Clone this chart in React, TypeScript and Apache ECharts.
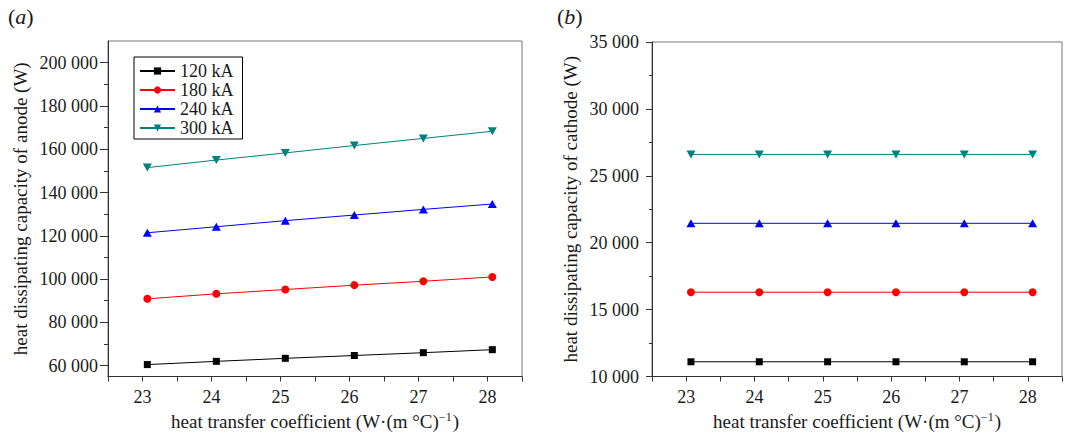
import React, { useEffect, useRef } from 'react';
import * as echarts from 'echarts';

const seriesNames = ['120 kA', '180 kA', '240 kA', '300 kA'];
const seriesColors = ['#000000', '#ff0000', '#0000ff', '#008080'];
const xValues = [23.07, 24.07, 25.07, 26.07, 27.07, 28.07];
const anode120 = [60500, 62000, 63400, 64700, 66000, 67400];
const anode180 = [90900, 93200, 95200, 97200, 99000, 101000];
const anode240 = [121400, 124200, 127000, 129600, 132200, 134700];
const anode300 = [151500, 155000, 158300, 161700, 165000, 168300];
const cathode120 = [11100, 11100, 11100, 11100, 11100, 11100];
const cathode180 = [16300, 16300, 16300, 16300, 16300, 16300];
const cathode240 = [21450, 21450, 21450, 21450, 21450, 21450];
const cathode300 = [26600, 26600, 26600, 26600, 26600, 26600];
const anodeMajorTicks = [60000, 80000, 100000, 120000, 140000, 160000, 180000, 200000];
const anodeMinorTicks = [70000, 90000, 110000, 130000, 150000, 170000, 190000];
const anodeTitle = 'heat dissipating capacity of anode (W)';
const cathodeTitle = 'heat dissipating capacity of cathode (W)';
const xTitle = 'heat transfer coefficient (W·(m °C)';

const FONT = "'Liberation Serif', 'Times New Roman', serif";
const TXT = '#1a1a1a';
const TICK_FS = 18;
const TITLE_FS = 19;

const symbols = ['rect', 'circle', 'triangle', 'triangle'];
const symbolRotates = [0, 0, 0, 180];
const symbolSizes: any[] = [7, 8, [9, 8], [9, 8]];

const fmtThousands = (v: number) => {
  const s = String(Math.round(v));
  return s.length > 3 ? s.slice(0, s.length - 3) + ' ' + s.slice(-3) : s;
};

export default function App() {
  const ref = useRef<HTMLDivElement>(null);
  useEffect(() => {
    if (!ref.current) return;
    const chart = echarts.init(ref.current, null, { renderer: 'svg' });
    const anodeData = [anode120, anode180, anode240, anode300];
    const cathodeData = [cathode120, cathode180, cathode240, cathode300];

    const mkSeries = (data: number[][], xi: number, yi: number) =>
      data.map((vals, i) => ({
        name: seriesNames[i],
        type: 'line',
        xAxisIndex: xi,
        yAxisIndex: yi,
        data: vals.map((v, j) => [xValues[j], v]),
        symbol: symbols[i],
        symbolRotate: symbolRotates[i],
        symbolSize: symbolSizes[i],
        showAllSymbol: true,
        lineStyle: { color: seriesColors[i], width: 1 },
        itemStyle: { color: seriesColors[i] },
        emphasis: { disabled: true },
      }));

    const xAxisBase = (gi: number) => ({
      type: 'value',
      gridIndex: gi,
      min: 22.5,
      max: 28.5,
      interval: 0.5,
      name: '{a|' + xTitle + '}{s|−1}{a|)}',
      nameLocation: 'middle',
      nameGap: 34,
      nameTextStyle: {
        rich: {
          a: { fontFamily: FONT, fontSize: TITLE_FS, color: TXT, lineHeight: 22, verticalAlign: 'middle' },
          s: { fontFamily: FONT, fontSize: 12, color: TXT, lineHeight: 22, verticalAlign: 'top', padding: [0, 1, 0, 0] },
        },
      },
      axisLine: { show: true, lineStyle: { color: '#333', width: 1 } },
      axisTick: { show: true, length: 5, lineStyle: { color: '#333' } },
      axisLabel: {
        margin: 11,
        fontFamily: FONT,
        fontSize: TICK_FS,
        color: TXT,
        formatter: (v: number) => (Math.abs(v - Math.round(v)) < 1e-6 ? String(Math.round(v)) : ''),
      },
      splitLine: { show: false },
    });

    const option: any = {
      animation: false,
      backgroundColor: '#ffffff',
      textStyle: { fontFamily: FONT },
      graphic: [
        {
          type: 'text', left: 8, top: 5,
          style: {
            text: '{n|(}{i|a}{n|)}',
            rich: {
              n: { fontFamily: FONT, fontSize: 22, fill: TXT },
              i: { fontFamily: FONT, fontSize: 22, fontStyle: 'italic', fill: TXT },
            },
          },
        },
        {
          type: 'text', left: 557, top: 5,
          style: {
            text: '{n|(}{i|b}{n|)}',
            rich: {
              n: { fontFamily: FONT, fontSize: 22, fill: TXT },
              i: { fontFamily: FONT, fontSize: 22, fontStyle: 'italic', fill: TXT },
            },
          },
        },
      ],
      legend: {
        data: seriesNames,
        orient: 'vertical',
        left: 134,
        top: 57,
        padding: [5, 9, 2, 5],
        itemGap: 1,
        itemWidth: 35,
        itemHeight: 9,
        borderColor: '#000',
        borderWidth: 1,
        backgroundColor: '#fff',
        textStyle: { fontFamily: FONT, fontSize: TICK_FS, color: TXT, lineHeight: 17 },
        selectedMode: false,
      },
      grid: [
        { left: 108, right: 543, top: 41, bottom: 59, show: true, borderColor: '#777', borderWidth: 1, backgroundColor: 'transparent' },
        { left: 652, right: 2, top: 42, bottom: 59, show: true, borderColor: '#777', borderWidth: 1, backgroundColor: 'transparent' },
      ],
      xAxis: [xAxisBase(0), xAxisBase(1)],
      yAxis: [
        {
          type: 'value',
          gridIndex: 0,
          min: 55000,
          max: 210000,
          name: anodeTitle,
          nameLocation: 'middle',
          nameGap: 78,
          nameTextStyle: { fontFamily: FONT, fontSize: TITLE_FS, color: TXT },
          axisLine: { show: true, lineStyle: { color: '#333', width: 1 } },
          axisTick: { show: true, length: 8, customValues: anodeMajorTicks, lineStyle: { color: '#333' } },
          axisLabel: {
            customValues: anodeMajorTicks,
            margin: 10,
            fontFamily: FONT,
            fontSize: TICK_FS,
            color: TXT,
            formatter: (v: number) => fmtThousands(v),
          },
          splitLine: { show: false },
        },
        {
          type: 'value',
          gridIndex: 0,
          min: 55000,
          max: 210000,
          position: 'left',
          axisLine: { show: false },
          axisTick: { show: true, length: 4, customValues: anodeMinorTicks, lineStyle: { color: '#333' } },
          axisLabel: { show: false },
          splitLine: { show: false },
        },
        {
          type: 'value',
          gridIndex: 1,
          min: 10000,
          max: 35000,
          interval: 5000,
          name: cathodeTitle,
          nameLocation: 'middle',
          nameGap: 72,
          nameTextStyle: { fontFamily: FONT, fontSize: TITLE_FS, color: TXT },
          axisLine: { show: true, lineStyle: { color: '#333', width: 1 } },
          axisTick: { show: true, length: 6, lineStyle: { color: '#333' } },
          minorTick: { show: true, splitNumber: 2, length: 3, lineStyle: { color: '#333' } },
          axisLabel: {
            margin: 13,
            fontFamily: FONT,
            fontSize: TICK_FS,
            color: TXT,
            formatter: (v: number) => fmtThousands(v),
          },
          splitLine: { show: false },
        },
      ],
      series: [...mkSeries(anodeData, 0, 0), ...mkSeries(cathodeData, 1, 2)],
    };
    chart.setOption(option);
    return () => chart.dispose();
  }, []);
  return <div ref={ref} style={{ position: 'absolute', left: 0, top: 0, width: 1065, height: 436 }} />;
}
